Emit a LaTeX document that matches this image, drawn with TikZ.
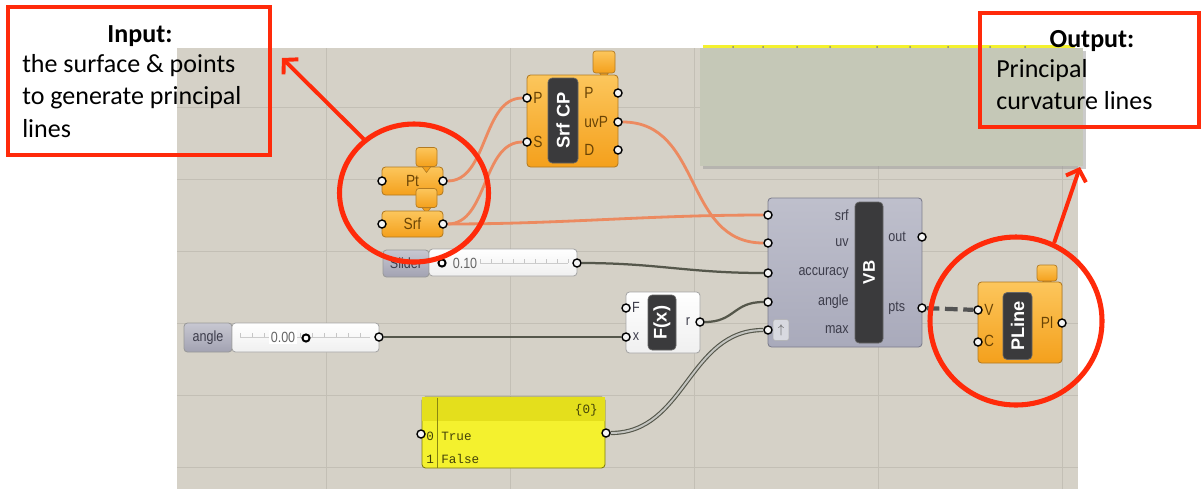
\documentclass[tikz,border=0pt]{standalone}
\usepackage{fontspec}
\setmainfont{Carlito}
\newfontfamily\ghfont[FakeStretch=0.85]{Liberation Sans}
\newfontfamily\ghbar{Liberation Sans}
\newfontfamily\ghmono{Liberation Mono}
\usetikzlibrary{arrows.meta,shapes.geometric}
\definecolor{ANN}{HTML}{FF2A0A}
\definecolor{CANVAS}{HTML}{D5D1C7}
\definecolor{GRID}{HTML}{C3BFB5}
\definecolor{PANEL}{HTML}{C5C8B7}
\definecolor{ORG}{HTML}{F4A01C}
\definecolor{ORGL}{HTML}{FCC65C}
\definecolor{ORGD}{HTML}{B27A22}
\definecolor{VBG}{HTML}{A9AABB}
\definecolor{VBD}{HTML}{7C7C8C}
\definecolor{BAR}{HTML}{3A3A3C}
\definecolor{SLD}{HTML}{A2A2B2}
\definecolor{YEL}{HTML}{F4F12E}
\definecolor{YELD}{HTML}{E4DF1C}
\definecolor{WIREO}{HTML}{EC8A60}
\definecolor{WIREG}{HTML}{55574B}
\definecolor{LBL}{HTML}{3C3C4A}
\definecolor{OLBL}{HTML}{6A4405}
\pgfdeclarelayer{canvas}
\pgfdeclarelayer{wires}
\pgfsetlayers{canvas,wires,main}

\begin{document}
\begin{tikzpicture}[
  x=0.025cm, y=-0.025cm,
  wd/.style={minimum width=#1*0.025cm},
  ht/.style={minimum height=#1*0.025cm},
  gport/.style={circle, draw=black, fill=white!92!gray, line width=1pt, inner sep=0pt, minimum size=0.2cm},
  ring/.style={circle, draw=black, fill=white, line width=1.4pt, inner sep=0pt, minimum size=0.18cm},
  obody/.style={rectangle, rounded corners=2.5pt, draw=ORGD, line width=0.6pt, top color=ORGL, bottom color=ORG, inner sep=0pt},
  gbody/.style={rectangle, rounded corners=2.5pt, draw=VBD, line width=0.6pt, top color=VBG!75!white, bottom color=VBG, inner sep=0pt},
  wbody/.style={rectangle, rounded corners=2.5pt, draw=gray!70, line width=0.6pt, top color=white, bottom color=gray!12, inner sep=0pt},
  sbody/.style={rectangle, rounded corners=2.5pt, draw=gray!80, line width=0.6pt, top color=SLD!60!white, bottom color=SLD, inner sep=0pt},
  ybody/.style={rectangle, rounded corners=2.5pt, draw=YELD!55!black, line width=0.6pt, fill=YEL, inner sep=0pt},
  bar/.style={rectangle, rounded corners=3pt, draw=black!60, line width=0.5pt, fill=BAR, inner sep=0pt, text=white},
  ptag/.style={rectangle, rounded corners=2pt, draw=ORGD, line width=0.5pt, top color=ORGL, bottom color=ORG, wd=21, ht=19},
  lbl/.style={font=\ghfont\fontsize{10.5}{12}\selectfont, text=LBL, inner sep=0pt},
  olbl/.style={font=\ghfont\fontsize{11.5}{13}\selectfont, text=OLBL, inner sep=0pt},
  ptxt/.style={font=\ghmono\fontsize{9}{10}\selectfont, text=black!70!YELD, inner sep=0pt},
  icon/.style={rectangle, rounded corners=1.5pt, draw=gray!60, fill=VBG!45!white, wd=15, ht=15, font=\small\bfseries, text=black!65},
  owire/.style={draw=WIREO, line width=2pt},
  gwire/.style={draw=WIREG, line width=1.6pt},
  lwire/.style={draw=WIREG, line width=0.8pt, double=WIREG!35!white, double distance=1.4pt},
  dwire/.style={draw=gray!65!black, line width=3pt, dash pattern=on 9pt off 4pt},
  annbox/.style={rectangle, draw=ANN, line width=2.6pt, inner sep=0pt},
  anncirc/.style={ellipse, draw=ANN, line width=3.6pt, inner sep=0pt},
  annarrow/.style={draw=ANN, line width=2.8pt, -{Straight Barb[length=7pt,width=15pt]}},
  anntitle/.style={font=\fontsize{18.5}{23}\selectfont\bfseries, inner sep=0pt},
  anntext/.style={font=\fontsize{18.5}{23.1}\selectfont, align=left, inner sep=0pt},
]
\useasboundingbox (0,0) rectangle (1201,489);

% ===== canvas =====
\begin{pgfonlayer}{canvas}
\fill[white] (0,0) rectangle (1201,489);
\fill[CANVAS] (177,48) rectangle (1078,489);
\foreach \gx in {326,510,694,878,1062} \draw[GRID, line width=0.6pt] (\gx,48) -- (\gx,489);
\foreach \gy in {107,179,251,323,395,467} \draw[GRID, line width=0.6pt] (177,\gy) -- (1078,\gy);
% output panel (cut off at the top)
\fill[black!40, opacity=0.5] (703,51) rectangle (1086,169);
\fill[PANEL] (700,48) rectangle (1083,166);
\fill[YEL] (703,45) rectangle (1075,48);
\foreach \dx in {733,763,797,830,877,910,948,990,1025} \fill[black!50] (\dx,47) circle (1);
\end{pgfonlayer}

% ===== Pt & Srf =====
\node[obody, wd=61, ht=28, olbl] (pt) at (412.5,181) {Pt};
\node[ptag] (pttag) at (426.5,157) {};
\filldraw[fill=ORG, draw=ORGD, line width=0.4pt] ([xshift=-3pt]pttag.south) -- ([xshift=3pt]pttag.south) -- ([yshift=-4pt]pttag.south) -- cycle;
\node[ptag] (srftag) at (426.5,198) {};
\filldraw[fill=ORG, draw=ORGD, line width=0.4pt] ([xshift=-3pt]srftag.south) -- ([xshift=3pt]srftag.south) -- ([yshift=-4pt]srftag.south) -- cycle;
\node[obody, wd=61, ht=26, olbl] (srf) at (412.5,224) {Srf};
\node[gport] (pt-i) at (382,181) {};
\node[gport] (pt-o) at (443,181) {};
\node[gport] (srf-i) at (382,224) {};
\node[gport] (srf-o) at (443,224) {};

% ===== Srf CP =====
\node[ptag, wd=22, ht=22] (cptag) at (604,62) {};
\filldraw[fill=ORG, draw=ORGD, line width=0.4pt] ([xshift=-3pt]cptag.south) -- ([xshift=3pt]cptag.south) -- ([yshift=-4pt]cptag.south) -- cycle;
\node[obody, wd=91, ht=92] (cp) at (572.5,121) {};
\node[bar, wd=85, ht=30, rotate=90, font=\ghbar\bfseries\fontsize{13}{14}\selectfont] (cpbar) at (563,120.5) {Srf CP};
\node[olbl] (cp-pl) at (538,98) {P};
\node[olbl] (cp-sl) at (538,142) {S};
\node[olbl, anchor=west] (cp-opl) at (584,93) {P};
\node[olbl, anchor=west] (cp-uvpl) at (584,122) {uvP};
\node[olbl, anchor=west] (cp-dl) at (584,150) {D};
\node[gport] (cp-p) at (527,98) {};
\node[gport] (cp-s) at (527,142) {};
\node[gport] (cp-op) at (618,93) {};
\node[gport] (cp-uvp) at (618,122) {};
\node[gport] (cp-d) at (618,150) {};

% ===== VB =====
\node[gbody, wd=154, ht=149] (vb) at (845,272.5) {};
\node[bar, wd=141, ht=28, rotate=90, font=\ghbar\bfseries\fontsize{12}{13}\selectfont] (vbbar) at (869,272.5) {VB};
\foreach \n/\y in {srf/215,uv/243,accuracy/273,angle/302,max/330} {
  \node[lbl, anchor=east] (vb-l\n) at (849,\y) {\n};
  \node[gport] (vb-\n) at (768,\y) {};
}
\foreach \n/\y in {out/237,pts/308} {
  \node[lbl, anchor=west] (vb-l\n) at (888,\y) {\n};
  \node[gport] (vb-\n) at (922,\y) {};
}
\node[icon] (vbicon) at (781,330) {$\uparrow$};

% ===== F(x) =====
\node[wbody, wd=74, ht=61] (fx) at (663,322.5) {};
\node[bar, wd=55, ht=28, rotate=90, font=\ghbar\bfseries\fontsize{13}{14}\selectfont] (fxbar) at (662,322.5) {F(x)};
\node[lbl] (fx-fl) at (636,307) {F};
\node[lbl] (fx-xl) at (636,337) {x};
\node[lbl] (fx-rl) at (688,322) {r};
\node[gport] (fx-f) at (626,308) {};
\node[gport] (fx-x) at (626,337) {};
\node[gport] (fx-r) at (700,322) {};

% ===== PLine =====
\node[ptag, wd=20, ht=16] (pltag) at (1047,273) {};
\filldraw[fill=ORG, draw=ORGD, line width=0.4pt] ([xshift=-3pt]pltag.south) -- ([xshift=3pt]pltag.south) -- ([yshift=-4pt]pltag.south) -- cycle;
\node[obody, wd=84, ht=81] (pl) at (1020,322.5) {};
\node[bar, wd=67, ht=29, rotate=90, font=\ghbar\bfseries\fontsize{13}{14}\selectfont] (plbar) at (1017.5,326) {PLine};
\node[olbl] (pl-vl) at (989,310) {V};
\node[olbl] (pl-cl) at (989,341) {C};
\node[olbl] (pl-ol) at (1047,323) {Pl};
\node[gport] (pl-v) at (978,310) {};
\node[gport] (pl-c) at (978,342) {};
\node[gport] (pl-o) at (1062,323) {};

% ===== sliders =====
\node[sbody, wd=46, ht=27, lbl] (accl) at (406,263.5) {Slider};
\node[wbody, wd=148, ht=27] (acc) at (503,262.5) {};
\draw[gray!40, line width=0.4pt] (480,263) -- (568,263);
\foreach \tx in {480,491,...,568} \draw[gray!45, line width=0.4pt] (\tx,259) -- (\tx,263);
\node[ring] (accring) at (442,263) {};
\node[lbl, text=black!60] (accval) at (465,263) {0.10};
\node[gport] (acc-o) at (577,263) {};

\node[sbody, wd=48, ht=29, lbl] (angl) at (208,337.5) {angle};
\node[wbody, wd=147, ht=29] (ang) at (305.5,337.5) {};
\draw[gray!40, line width=0.4pt] (240,337) -- (370,337);
\foreach \tx in {240,252,...,370} \draw[gray!45, line width=0.4pt] (\tx,333) -- (\tx,337);
\node[lbl, text=black!60, fill=white, inner sep=1pt] (angval) at (283,337) {0.00};
\node[ring] (angring) at (306,338) {};
\node[gport] (ang-o) at (379,337) {};

% ===== panel =====
\node[ybody, wd=183, ht=71] (pan) at (513.5,432.5) {};
\fill[YELD] ([xshift=0.4pt,yshift=-0.4pt]pan.north west) rectangle (604.5,421);
\draw[YELD!60!black, line width=0.4pt] (437,397.5) -- (437,467.5);
\node[ptxt, anchor=east] (pan-h) at (598,410) {\{0\}};
\node[ptxt, anchor=west] (pan-0n) at (426,436) {0};
\node[ptxt, anchor=west] (pan-0) at (441,436) {True};
\node[ptxt, anchor=west] (pan-1n) at (426,459) {1};
\node[ptxt, anchor=west] (pan-1) at (441,459) {False};
\node[gport] (pan-i) at (421,434) {};
\node[gport] (pan-o) at (606,433) {};

% ===== wires =====
\begin{pgfonlayer}{wires}
\draw[owire] (pt-o) .. controls +(45,0) and +(-45,0) .. (cp-p);
\draw[owire] (srf-o) .. controls +(45,0) and +(-45,0) .. (cp-s);
\draw[owire] (srf-o) .. controls +(120,0) and +(-120,0) .. (vb-srf);
\draw[owire] (cp-uvp) .. controls +(85,0) and +(-85,0) .. (vb-uv);
\draw[gwire] (acc-o) .. controls +(80,0) and +(-80,0) .. (vb-accuracy);
\draw[gwire] (ang-o) -- (fx-x);
\draw[gwire] (fx-r) .. controls +(35,0) and +(-35,0) .. (vb-angle);
\draw[lwire] (pan-o) .. controls +(80,0) and +(-80,0) .. (vb-max);
\draw[dwire] (vb-pts) -- (pl-v);
\end{pgfonlayer}

% ===== annotations =====
\node[annbox, wd=262, ht=148] (inbox) at (139,81) {};
\node[anntitle, anchor=base] (intitle) at (140,42) {Input:};
\node[anntext, anchor=north west] (intext) at (22,54) {the surface \& points\\to generate principal\\lines};
\node[anncirc, wd=149, ht=138] (incirc) at (414,193) {};
\coordinate (inhead) at (282,58);
\draw[annarrow] (incirc.133) -- (inhead);

\node[annbox, wd=219, ht=114] (outbox) at (1089.5,70) {};
\node[anntitle, anchor=base] (outtitle) at (1092,47) {Output:};
\node[anntext, anchor=north west] (outtext) at (996,59) {Principal\\curvature lines};
\node[anncirc, wd=172, ht=168] (outcirc) at (1016,321) {};
\coordinate (outhead) at (1080,167);
\draw[annarrow] (outcirc.64) -- (outhead);

\end{tikzpicture}
\end{document}
